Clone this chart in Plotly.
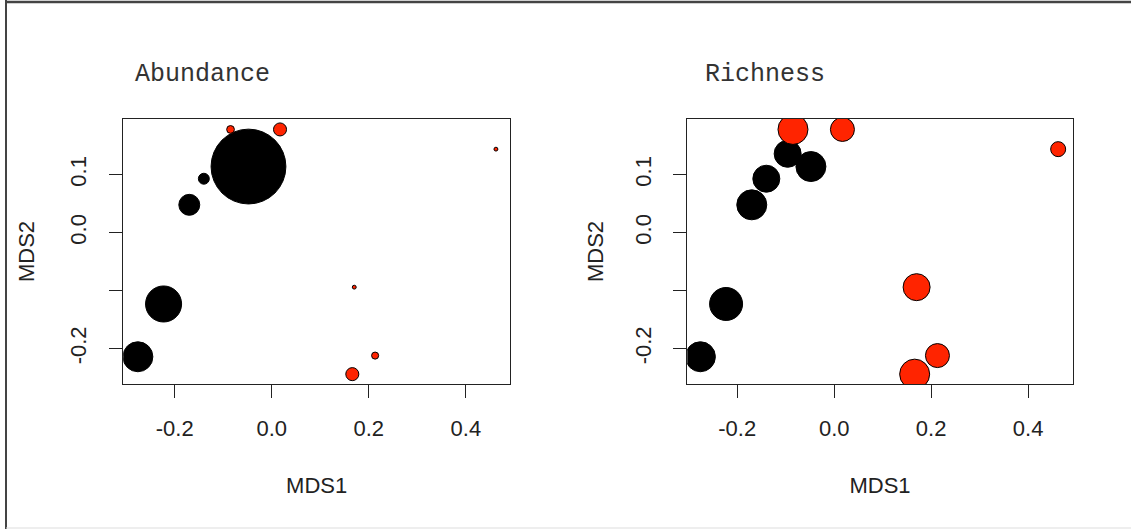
import numpy as np
import plotly.graph_objects as go

# ---- data ----
mds1 = [-0.276, -0.223, -0.170, -0.140, -0.096, -0.048, -0.085, 0.017, 0.462, 0.170, 0.213, 0.166]
mds2 = [-0.214, -0.123, 0.048, 0.093, 0.136, 0.114, 0.178, 0.178, 0.144, -0.094, -0.212, -0.244]
group = ["A", "A", "A", "A", "A", "A", "B", "B", "B", "B", "B", "B"]
abundance = [9.0, 13.0, 4.4, 1.2, 1.0, 56.0, 0.6, 1.7, 0.15, 0.15, 0.5, 1.7]
richness = [10, 11, 10, 9, 9, 10, 10, 8, 5, 9, 8, 10]
panel_titles = ["Abundance", "Richness"]
x_tickvals = [-0.2, 0.0, 0.2, 0.4]
x_ticktext = ["-0.2", "0.0", "0.2", "0.4"]
y_tickvals = [-0.2, -0.1, 0.0, 0.1]
y_ticktext = ["-0.2", "", "0.0", "0.1"]

W, H = 1131, 529
fill = {"A": "#000000", "B": "#ff2400"}
colors = [fill[g] for g in group]

fig = go.Figure()

def add_panel(diam, xa, ya):
    fig.add_trace(go.Scatter(
        x=mds1, y=mds2, mode="markers", xaxis=xa, yaxis=ya,
        marker=dict(size=diam, sizemode="diameter", sizeref=1,
                    color=colors, line=dict(color="#000000", width=1), opacity=1),
        cliponaxis=True, showlegend=False, hoverinfo="x+y"))

# symbol diameter: sqrt-scaled abundance, linear richness
add_panel(list(10 * np.sqrt(np.array(abundance))), "x", "y")
add_panel([3 * r for r in richness], "x2", "y2")

def px_x(p):
    return p / W

def px_y(p):
    return 1 - p / H

font_ax = dict(family="Liberation Sans, Arial", size=22, color="#222222")
common_x = dict(range=[-0.306, 0.491], tickvals=x_tickvals, ticktext=x_ticktext,
                ticks="outside", ticklen=13, tickwidth=1.3, tickcolor="#222222",
                showline=True, linecolor="#222222", linewidth=1.3, mirror=True,
                showgrid=False, zeroline=False, tickfont=font_ax,
                title=dict(text="MDS1", font=font_ax, standoff=38),
                ticklabelstandoff=11)
common_y = dict(range=[-0.261, 0.196], tickvals=y_tickvals, ticktext=y_ticktext,
                ticks="outside", ticklen=13, tickwidth=1.3, tickcolor="#222222",
                showline=True, linecolor="#222222", linewidth=1.3, mirror=True,
                showgrid=False, zeroline=False, tickfont=font_ax, tickangle=-90)

fig.update_layout(
    width=W, height=H, margin=dict(l=0, r=0, t=0, b=0),
    paper_bgcolor="white", plot_bgcolor="white",
    xaxis=dict(common_x, domain=[px_x(123.3), px_x(510)], anchor="y"),
    yaxis=dict(common_y, domain=[px_y(384), px_y(119)], anchor="x",
               ticklabelstandoff=14,
               title=dict(text="MDS2", font=font_ax, standoff=25)),
    xaxis2=dict(common_x, domain=[px_x(687.3), px_x(1072.7)], anchor="y2",
                range=[-0.303, 0.492]),
    yaxis2=dict(common_y, domain=[px_y(384), px_y(119)], anchor="x2",
                ticklabelstandoff=13,
                title=dict(text="MDS2", font=font_ax, standoff=21)),
)

font_t = dict(family="Liberation Mono, Courier New, monospace", size=25, color="#333333")
for xpos, t in zip([133, 703], panel_titles):
    fig.add_annotation(text=t, xref="paper", yref="paper", x=px_x(xpos), y=px_y(74),
                       xanchor="left", yanchor="middle", showarrow=False, font=font_t)

# outer frame
fig.add_shape(type="line", xref="paper", yref="paper", x0=px_x(6), x1=px_x(6),
              y0=0, y1=1, line=dict(color="#444444", width=2))
fig.add_shape(type="line", xref="paper", yref="paper", x0=px_x(6), x1=1,
              y0=px_y(2), y1=px_y(2), line=dict(color="#444444", width=2.5))
fig.add_shape(type="line", xref="paper", yref="paper", x0=px_x(6), x1=1,
              y0=px_y(528), y1=px_y(528), line=dict(color="#dddddd", width=1))

fig.write_html("out.html", config={"displayModeBar": False})

# remove the browser's default page margin so the figure sits at (0, 0)
with open("out.html", encoding="utf-8") as f:
    html = f.read()
html = html.replace("<head>", "<head><style>html,body{margin:0;padding:0;overflow:hidden;}</style>", 1)
with open("out.html", "w", encoding="utf-8") as f:
    f.write(html)
